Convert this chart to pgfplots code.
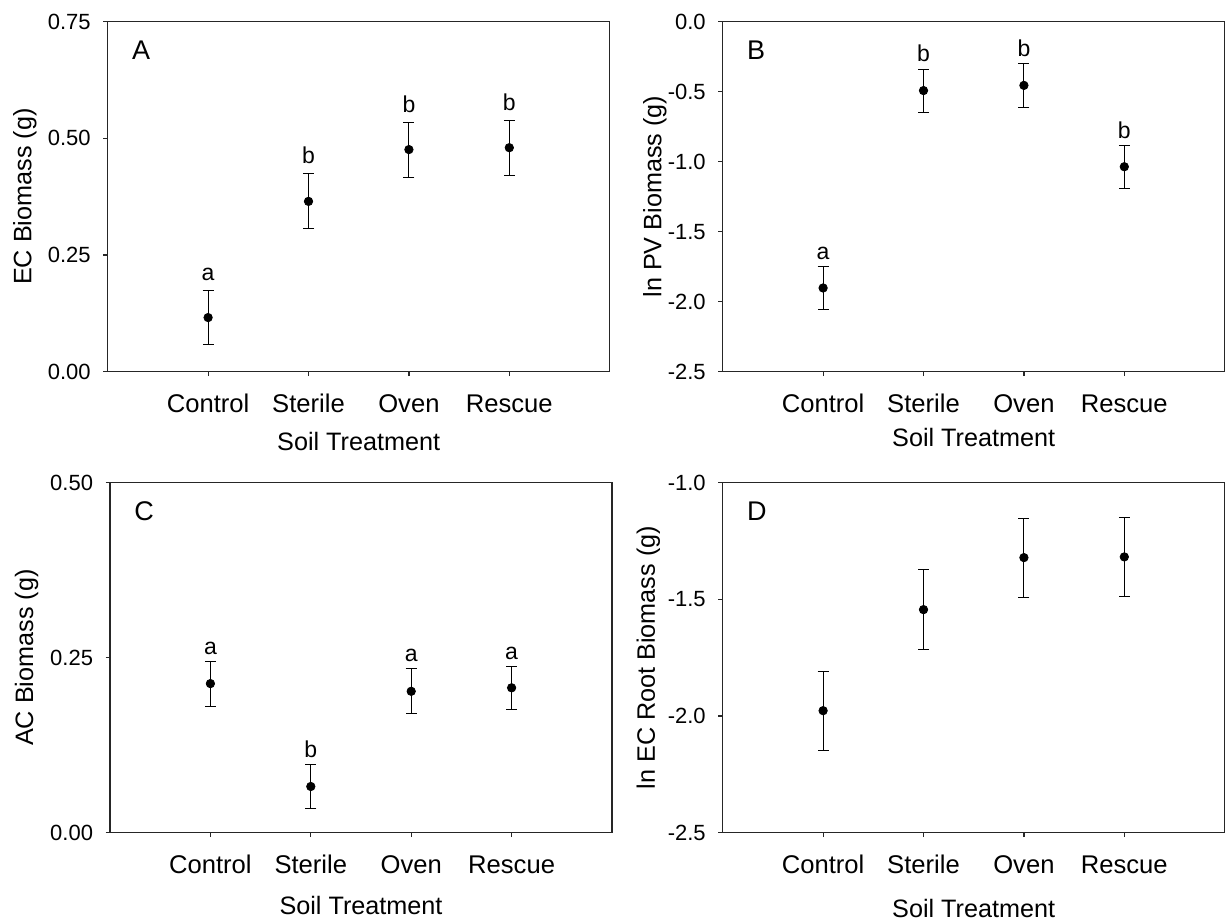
\documentclass[border=0pt]{standalone}
\usepackage{fontspec}
\setmainfont{Liberation Sans}
\usepackage{pgfplots}
\usepackage{pgfplotstable}
\pgfplotsset{compat=1.18}

\pgfplotstableread{
x y e lab
1 0.116 0.058 a
2 0.365 0.059 b
3 0.476 0.059 b
4 0.480 0.059 b
}\dataA
\pgfplotstableread{
x y e lab
1 -1.902 0.155 a
2 -0.492 0.154 b
3 -0.455 0.155 b
4 -1.036 0.155 b
}\dataB
\pgfplotstableread{
x y e lab
1 0.213 0.032 a
2 0.066 0.032 b
3 0.202 0.032 a
4 0.207 0.031 a
}\dataC
\pgfplotstableread{
x y e
1 -1.977 0.170
2 -1.544 0.170
3 -1.321 0.169
4 -1.318 0.169
}\dataD

\tikzset{plab/.style={anchor=north west, inner sep=0pt, xshift=12pt, yshift=-9.5pt, font=\fontsize{13.5}{15}\selectfont}}

\pgfplotsset{
  panel/.style={
    scale only axis, width=251pt, height=175pt,
    xmin=0, xmax=5, xtick={1,2,3,4},
    xticklabels={Control,Sterile,Oven,Rescue},
    xtick pos=bottom, ytick pos=left, tick align=outside,
    major tick length=2.2pt,
    axis line style={black!85, line width=0.6pt},
    every tick/.style={black!85, line width=0.6pt},
    xticklabel style={font=\fontsize{12.8}{14}\selectfont, anchor=base, inner sep=0pt, yshift=-18.2pt},
    yticklabel style={font=\fontsize{11}{12}\selectfont, anchor=east, inner sep=0pt, xshift=-6.1pt},
    xlabel={Soil Treatment},
    ylabel style={font=\fontsize{12.6}{14}\selectfont, anchor=base, inner sep=0pt},
    clip=false,
  },
  xlab/.style={xlabel style={font=\fontsize{12.6}{14}\selectfont, at={(axis description cs:0.5,0)}, anchor=base, inner sep=0pt, yshift=-#1}},
  ylab/.style={ylabel style={at={(axis description cs:#1,0.5)}}},
  pts/.style={black, only marks, mark=*, mark size=2.1pt, mark options={fill=black},
    error bars/.cd, y dir=both, y explicit,
    error bar style={black, line width=0.5pt},
    error mark options={black, rotate=90, mark size=2.75pt, line width=0.5pt}},
  lets/.style={draw=none, mark=none, nodes near coords, point meta=explicit symbolic,
    nodes near coords style={anchor=south, inner sep=0pt, yshift=#1, font=\fontsize{11.5}{13}\selectfont, black}},
}

\begin{document}
\begin{tikzpicture}
\useasboundingbox (0,0) rectangle (612.5pt,460.5pt);

% Panel A
\begin{axis}[panel, at={(53.85pt,274.65pt)}, anchor=south west,
  xlab=39.65pt, ylab=-0.152,
  ymin=0, ymax=0.75, ytick={0,0.25,0.5,0.75}, yticklabels={0.00,0.25,0.50,0.75},
  ylabel={EC Biomass (g)}]
\addplot[pts] table[x=x, y=y, y error=e] {\dataA};
\addplot[lets=4.7pt] table[x=x, y expr=\thisrow{y}+\thisrow{e}, meta=lab] {\dataA};
\node[plab] at (rel axis cs:0,1) {A};
\end{axis}

% Panel B
\begin{axis}[panel, at={(361.35pt,274.65pt)}, anchor=south west,
  xlab=37.65pt, ylab=-0.1221,
  ymin=-2.5, ymax=0, ytick={-2.5,-2,-1.5,-1,-0.5,0}, yticklabels={-2.5,-2.0,-1.5,-1.0,-0.5,0.0},
  ylabel={ln PV Biomass (g)}]
\addplot[pts] table[x=x, y=y, y error=e] {\dataB};
\addplot[lets=3.2pt] table[x=x, y expr=\thisrow{y}+\thisrow{e}, meta=lab] {\dataB};
\node[plab] at (rel axis cs:0,1) {B};
\end{axis}

% Panel C
\begin{axis}[panel, at={(55pt,44.15pt)}, anchor=south west,
  xlab=41pt, ylab=-0.1532,
  ymin=0, ymax=0.5, ytick={0,0.25,0.5}, yticklabels={0.00,0.25,0.50},
  ylabel={AC Biomass (g)}]
\addplot[pts] table[x=x, y=y, y error=e] {\dataC};
\addplot[lets=3.2pt] table[x=x, y expr=\thisrow{y}+\thisrow{e}, meta=lab] {\dataC};
\node[plab] at (rel axis cs:0,1) {C};
\end{axis}

% Panel D
\begin{axis}[panel, at={(361.35pt,44.15pt)}, anchor=south west,
  xlab=42.5pt, ylab=-0.1353,
  ymin=-2.5, ymax=-1, ytick={-2.5,-2,-1.5,-1}, yticklabels={-2.5,-2.0,-1.5,-1.0},
  ylabel={ln EC Root Biomass (g)}]
\addplot[pts] table[x=x, y=y, y error=e] {\dataD};
\node[plab] at (rel axis cs:0,1) {D};
\end{axis}
\end{tikzpicture}
\end{document}
